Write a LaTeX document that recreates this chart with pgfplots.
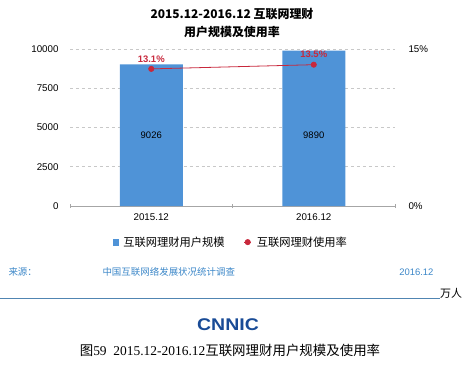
\documentclass[border=0pt]{standalone}
\usepackage{fontspec}
\setmainfont{Liberation Sans}
\newfontfamily\cjk{Noto Sans CJK SC}
\newfontfamily\serifnum{Liberation Serif}
\usepackage{pgfplots}
\pgfplotsset{compat=1.18}
\pgfplotsset{short legend/.style={legend image code/.code={\draw[mark repeat=2, mark phase=2, ##1] plot coordinates {(0cm,0cm) (0.13cm,0cm) (0.26cm,0cm)};}}}
\definecolor{barblue}{RGB}{79,147,215}
\definecolor{linered}{RGB}{200,40,60}
\definecolor{srcblue}{RGB}{60,135,200}
\definecolor{logoblue}{RGB}{25,75,150}
\definecolor{gridgray}{RGB}{200,200,200}
\begin{document}
\begin{tikzpicture}[x=1bp,y=1bp]
\useasboundingbox (0,0) rectangle (466,377);
% title
\node[font=\cjk\bfseries\fontsize{12}{13}\selectfont] at (232,363) {2015.12-2016.12 互联网理财};
\node[font=\cjk\bfseries\fontsize{12}{13}\selectfont] at (232,345) {用户规模及使用率};
\begin{axis}[
  at={(70bp,171bp)}, anchor=south west,
  scale only axis, width=325bp, height=157bp,
  xmin=-0.5, xmax=1.5, ymin=0, ymax=10000,
  axis x line*=bottom, axis y line*=left,
  y axis line style={draw=none},
  x axis line style={draw=gray!70, line width=0.6pt},
  xtick={0,1}, xticklabels={2015.12,2016.12},
  minor xtick={-0.5,0.5,1.5},
  xtick align=center,
  major x tick style={draw=none},
  minor x tick style={draw=gray!70, line width=0.6pt},
  minor tick length=4bp,
  ytick={0,2500,5000,7500,10000},
  scaled y ticks=false,
  yticklabels={0,2500,5000,7500,10000},
  major y tick style={draw=none},
  ymajorgrids, grid style={dashed, gridgray, line width=0.6pt},
  /pgf/number format/1000 sep={},
  /pgf/number format/assume math mode=true,
  tick label style={font=\fontsize{9.8}{11}\selectfont},
  yticklabel style={xshift=-8bp},
  xticklabel style={yshift=-2bp},
  legend style={at={(0.5,-0.23)}, anchor=center, draw=none, fill=none,
    legend columns=2, font=\cjk\fontsize{11.3}{13}\selectfont,
    /tikz/every even column/.append style={column sep=14bp},
    nodes={inner xsep=5bp}},
  legend cell align=left,
]
\addplot[ybar, bar width=63bp, fill=barblue, draw=none, forget plot] coordinates {(0,9026) (1,9890)};
\addplot[only marks, mark=none, nodes near coords, point meta=explicit symbolic,
  nodes near coords style={anchor=center, font=\fontsize{9.5}{10}\selectfont, text=black}, forget plot]
  coordinates {(0,4500)[9026] (1,4500)[9890]};
\addlegendimage{only marks, mark=square*, mark size=2.6bp, color=barblue}
\addlegendentry{互联网理财用户规模}
\addlegendimage{linered, mark=*, mark size=2.6bp, line width=0.8pt, short legend}
\addlegendentry{互联网理财使用率}
\end{axis}
\begin{axis}[
  at={(70bp,171bp)}, anchor=south west,
  scale only axis, width=325bp, height=157bp,
  xmin=-0.5, xmax=1.5, ymin=0, ymax=15,
  axis x line=none, axis y line*=right,
  y axis line style={draw=none},
  ytick={0,15}, yticklabels={0\%,15\%},
  major y tick style={draw=none},
  /pgf/number format/assume math mode=true,
  tick label style={font=\fontsize{9.8}{11}\selectfont},
  yticklabel style={xshift=10bp},
]
\addplot[linered, line width=0.8pt, mark=*, mark size=2.6bp,
  nodes near coords={\pgfmathprintnumber[fixed,precision=1,fixed zerofill]{\pgfplotspointmeta}\%},
  nodes near coords style={text=linered, font=\bfseries\fontsize{9.5}{10}\selectfont, yshift=3bp}]
  coordinates {(0,13.1) (1,13.5)};
\end{axis}
% source row
\node[anchor=west, text=srcblue, font=\cjk\fontsize{9.5}{11}\selectfont] at (5,105) {来源：};
\node[anchor=west, text=srcblue, font=\cjk\fontsize{9.5}{11}\selectfont] at (99,105) {中国互联网络发展状况统计调查};
\node[anchor=east, text=srcblue, font=\fontsize{9.5}{11}\selectfont] at (437,105) {2016.12};
% rule and unit
\draw[color=srcblue!70!gray, line width=0.7pt] (0,79) -- (440,79);
\node[anchor=south west, inner sep=0pt, font=\cjk\fontsize{11}{12}\selectfont] at (440,78) {万人};
% logo
\node[text=logoblue, font=\bfseries\fontsize{17}{18}\selectfont, xscale=1.15] at (228,52) {CNNIC};
% caption
\node[font=\fontsize{13.5}{15}\selectfont] at (230,27) {{\cjk 图}\serifnum 59\ \ 2015.12-2016.12{\cjk 互联网理财用户规模及使用率}};
\end{tikzpicture}
\end{document}
